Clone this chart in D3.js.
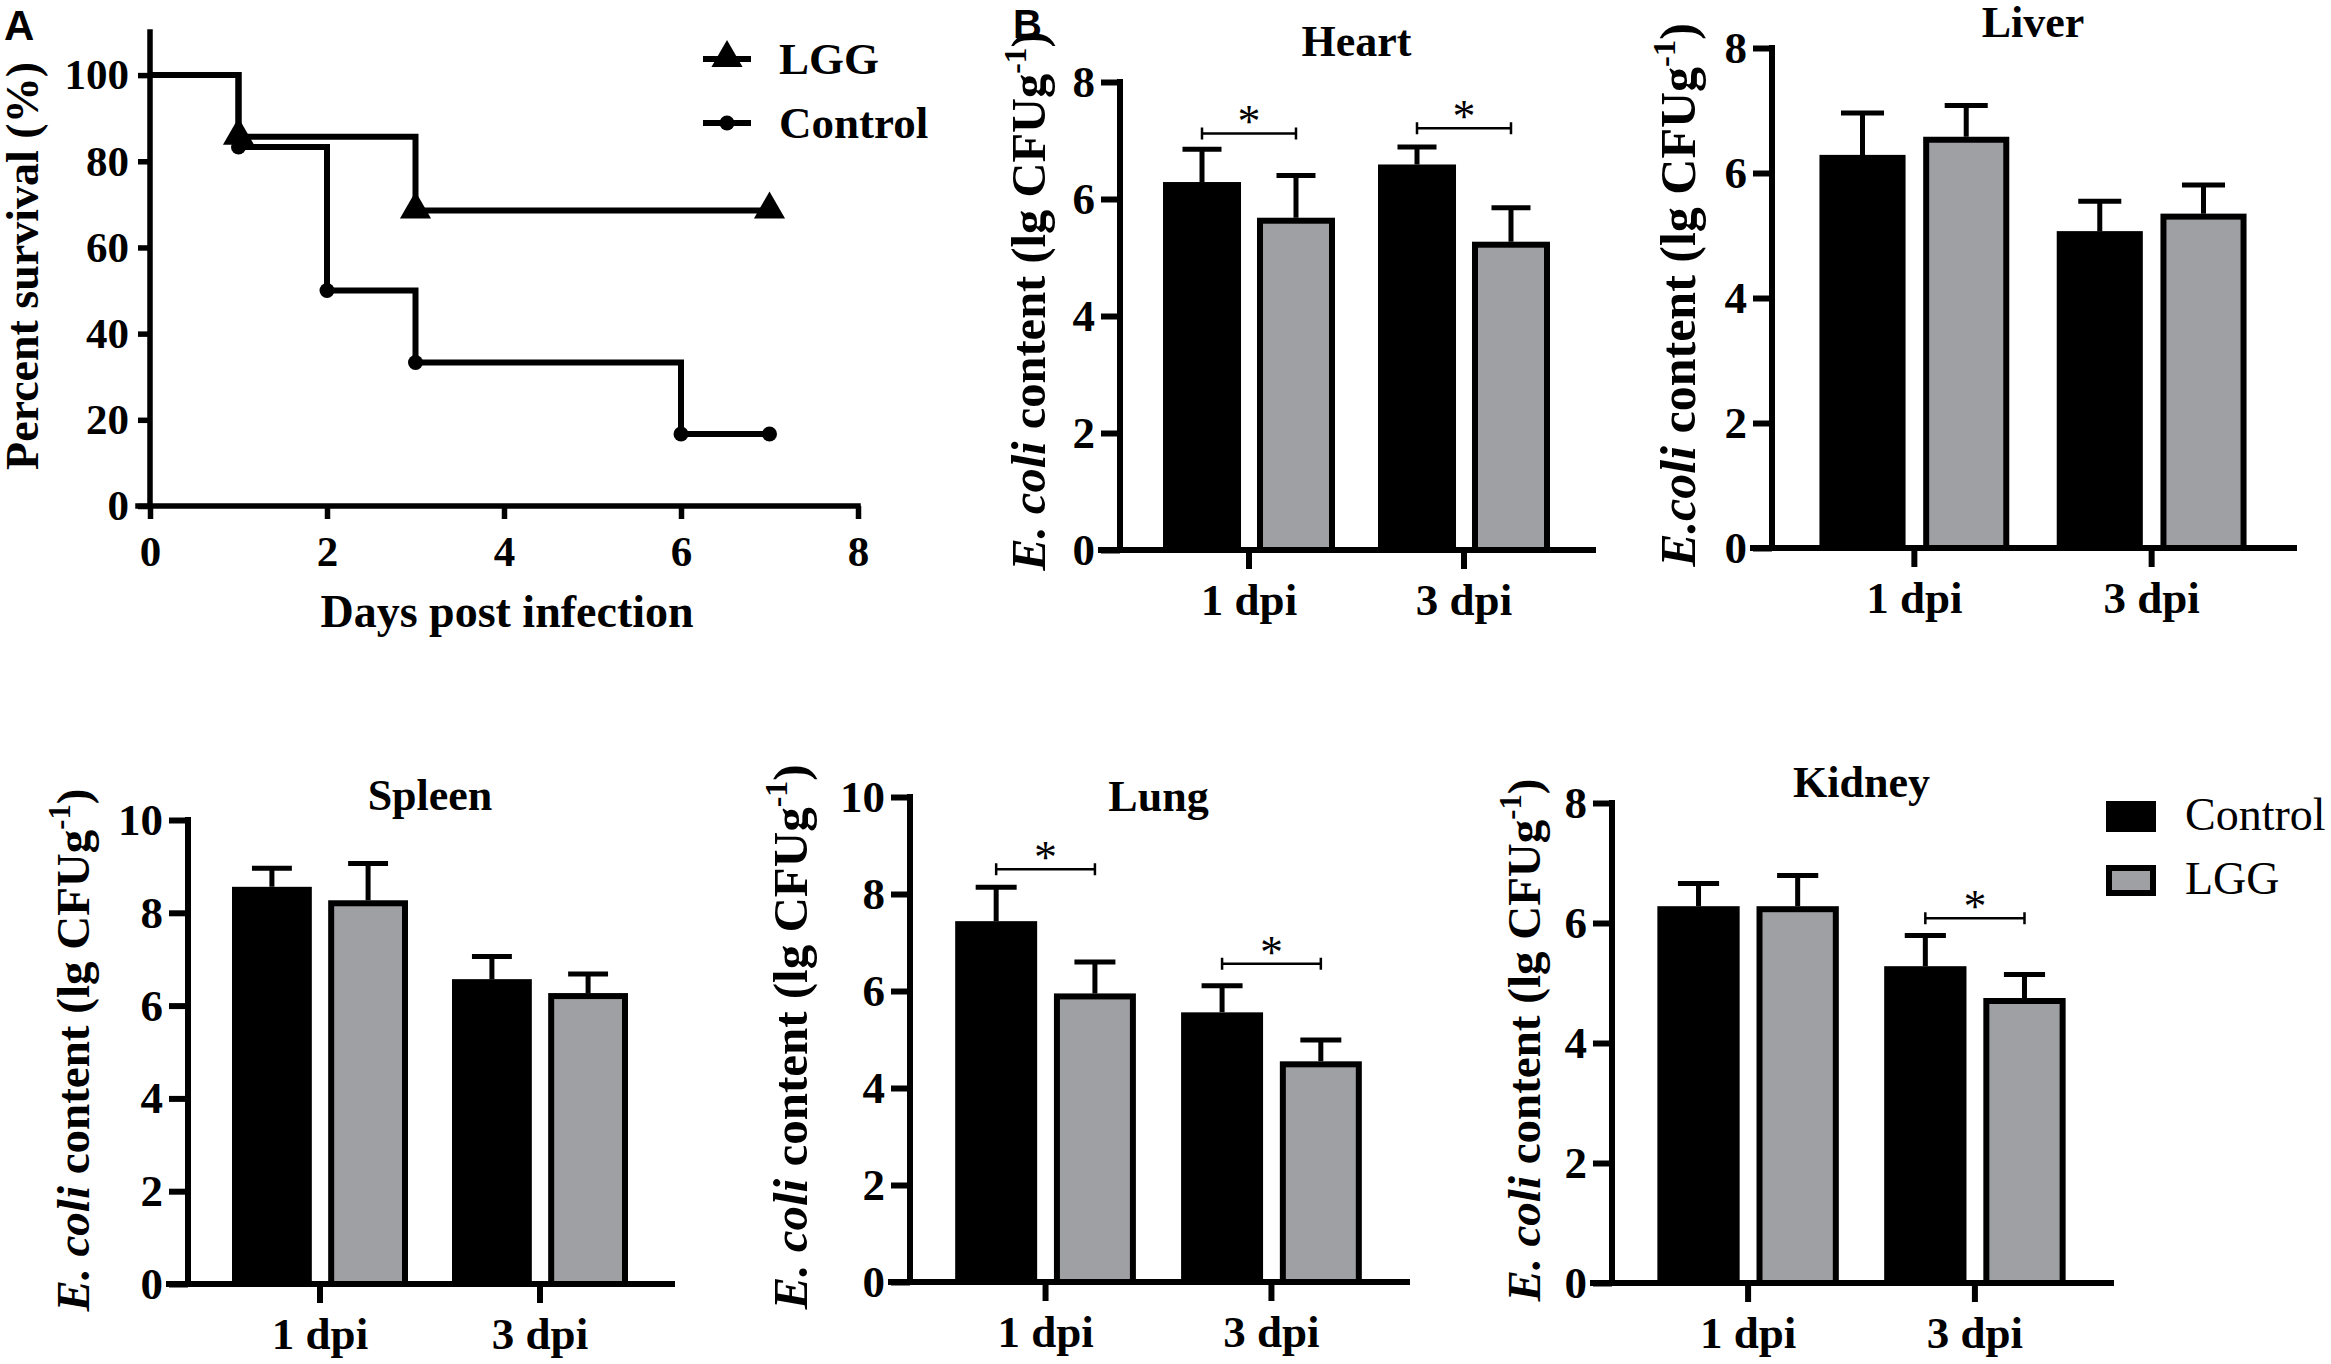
<!DOCTYPE html>
<html>
<head>
<meta charset="utf-8">
<script src="https://cdn.jsdelivr.net/npm/d3@7"></script>
<style>
  body { margin: 0; background: #fff; }
  svg { display: block; }
</style>
</head>
<body>
<div id="chart"></div>
<script>
/* CONSTANTS AND GLOBALS */
const width = 2331, height = 1364;
const SERIF = "'Liberation Serif', 'Times New Roman', serif";
const SANS = "'Liberation Sans', Arial, sans-serif";
const GREY = "#9fa0a4";

/* DATA - panel A, survival */
const survivalTicksX = [0, 2, 4, 6, 8];
const survivalTicksY = [0, 20, 40, 60, 80, 100];
const lggDays = [0, 1, 3, 7];
const lggSurvival = [100, 85.7, 68.6, 68.6];
const controlDays = [0, 1, 2, 3, 6, 7];
const controlSurvival = [100, 83.3, 50, 33.3, 16.7, 16.7];

/* DATA - panel B, E. coli content (mean and upper error) */
const organs = ["Heart", "Liver", "Spleen", "Lung", "Kidney"];
const timepoints = ["1 dpi", "3 dpi"];
const groups = ["Control", "LGG"];
const yMax = [8, 8, 10, 10, 8];
const controlMean = [[6.29, 6.59], [6.29, 5.07], [8.56, 6.57], [7.44, 5.56], [6.28, 5.28]];
const controlErr  = [[0.56, 0.30], [0.67, 0.48], [0.40, 0.49], [0.70, 0.55], [0.38, 0.51]];
const lggMean     = [[5.68, 5.27], [6.58, 5.35], [8.27, 6.27], [5.95, 4.55], [6.28, 4.75]];
const lggErr      = [[0.72, 0.58], [0.50, 0.46], [0.79, 0.41], [0.65, 0.44], [0.51, 0.39]];
const sigOrgan  = ["Heart", "Heart", "Lung", "Lung", "Kidney"];
const sigTime   = ["1 dpi", "3 dpi", "1 dpi", "3 dpi", "3 dpi"];
const sigHeight = [7.12, 7.21, 8.51, 6.56, 6.08];

/* LAYOUT (pixel boxes of each plot) */
const layout = {
  Heart:  {x0: 1120, x1: 1593, yTop: 82,  yBot: 550,  titleY: 56,  labX: 1045, labY: 301,  labFont: 48.5, species: "E. coli"},
  Liver:  {x0: 1772, x1: 2294, yTop: 48,  yBot: 548,  titleY: 37,  labX: 1695, labY: 295,  labFont: 50, species: "E.coli"},
  Spleen: {x0: 188,  x1: 672,  yTop: 820, yBot: 1284, titleY: 810, labX: 89,   labY: 1050, labFont: 47, species: "E. coli"},
  Lung:   {x0: 910,  x1: 1407, yTop: 797, yBot: 1282, titleY: 811, labX: 807,  labY: 1037, labFont: 49, species: "E. coli"},
  Kidney: {x0: 1612, x1: 2111, yTop: 803, yBot: 1283, titleY: 797, labX: 1540, labY: 1040, labFont: 47, species: "E. coli"}
};

/* APPEND SVG */
const svg = d3.select("#chart")
  .append("svg")
    .attr("width", width)
    .attr("height", height)
    .style("background", "#fff");

function styleAxis(g, size, sw) {
  g.select(".domain").remove();
  g.selectAll(".tick line").attr("stroke", "#000").attr("stroke-width", sw);
  g.selectAll(".tick text")
    .attr("fill", "#000")
    .style("font-family", SERIF)
    .style("font-weight", "bold")
    .style("font-size", size + "px");
}

function yLabel(g, x, y, species, fs) {
  const t = g.append("text")
    .attr("transform", `translate(${x},${y}) rotate(-90)`)
    .attr("text-anchor", "middle")
    .style("font-family", SERIF)
    .style("font-weight", "bold")
    .style("font-size", fs + "px");
  t.append("tspan").style("font-style", "italic").text(species);
  t.append("tspan").text(" content (lg CFUg");
  t.append("tspan").attr("dy", -0.4 * fs).style("font-size", (0.65 * fs) + "px").text("-1");
  t.append("tspan").attr("dy", 0.4 * fs).text(")");
}

/* ---------- PANEL A : survival ---------- */
const ax = d3.scaleLinear().domain([0, 8]).range([150, 858]);
const ay = d3.scaleLinear().domain([0, 110]).range([506, 32]);

const gA = svg.append("g");

gA.append("g")
  .attr("transform", `translate(${ax(0)},0)`)
  .call(d3.axisLeft(ay).tickValues(survivalTicksY).tickSize(12).tickPadding(9))
  .call(g => styleAxis(g, 43, 5.5));

gA.append("g")
  .attr("transform", `translate(0,${ay(0)})`)
  .call(d3.axisBottom(ax).tickValues(survivalTicksX).tickSize(13).tickPadding(16))
  .call(g => styleAxis(g, 43, 5.5));

// axis lines
gA.append("path")
  .attr("d", `M${ax(0)},${ay(110)}V${ay(0)}M${ax(0) - 12},${ay(0)}H${ax(8)}`)
  .attr("fill", "none").attr("stroke", "#000").attr("stroke-width", 5.5)
  .attr("stroke-linecap", "square");

const stepLine = d3.line()
  .x(d => ax(d[0]))
  .y(d => ay(d[1]))
  .curve(d3.curveStepAfter);

const lggPts = lggDays.map((d, i) => [d, lggSurvival[i]]);
const ctrlPts = controlDays.map((d, i) => [d, controlSurvival[i]]);

gA.append("path").attr("d", stepLine(ctrlPts))
  .attr("fill", "none").attr("stroke", "#000").attr("stroke-width", 6);
gA.append("path").attr("d", stepLine(lggPts))
  .attr("fill", "none").attr("stroke", "#000").attr("stroke-width", 6);

const tri = d3.symbol(d3.symbolTriangle, 420);
gA.selectAll(".tri")
  .data(lggPts.slice(1))
  .join("path")
    .attr("transform", d => `translate(${ax(d[0])},${ay(d[1]) - 1})`)
    .attr("d", tri)
    .attr("fill", "#000");

gA.selectAll(".dot")
  .data(ctrlPts.slice(1))
  .join("circle")
    .attr("cx", d => ax(d[0]))
    .attr("cy", d => ay(d[1]))
    .attr("r", 7.5)
    .attr("fill", "#000");

// axis titles
gA.append("text")
  .attr("transform", `translate(38,266) rotate(-90)`)
  .attr("text-anchor", "middle")
  .style("font-family", SERIF).style("font-weight", "bold").style("font-size", "46px")
  .text("Percent survival (%)");

gA.append("text")
  .attr("x", 507).attr("y", 627)
  .attr("text-anchor", "middle")
  .style("font-family", SERIF).style("font-weight", "bold").style("font-size", "46px")
  .text("Days post infection");

// legend A
const legA = gA.append("g");
[["LGG", 59], ["Control", 123]].forEach(([name, ly]) => {
  legA.append("line")
    .attr("x1", 703).attr("x2", 751).attr("y1", ly).attr("y2", ly)
    .attr("stroke", "#000").attr("stroke-width", 6);
  if (name === "LGG") {
    legA.append("path").attr("transform", `translate(727,${ly - 1})`).attr("d", tri).attr("fill", "#000");
  } else {
    legA.append("circle").attr("cx", 727).attr("cy", ly).attr("r", 7.5).attr("fill", "#000");
  }
  legA.append("text")
    .attr("x", 779).attr("y", ly + 15)
    .style("font-family", SERIF).style("font-weight", "bold").style("font-size", "45px")
    .text(name);
});

// panel letters
svg.append("text").attr("x", 4).attr("y", 40)
  .style("font-family", SANS).style("font-weight", "bold").style("font-size", "42px").text("A");
svg.append("text").attr("x", 1013).attr("y", 38)
  .style("font-family", SANS).style("font-weight", "bold").style("font-size", "40px").text("B");

/* ---------- PANEL B : bar charts ---------- */
organs.forEach((organ, i) => {
  const p = layout[organ];
  const g = svg.append("g");

  const y = d3.scaleLinear().domain([0, yMax[i]]).range([p.yBot, p.yTop]);
  const x = d3.scaleBand().domain(timepoints).range([p.x0, p.x1])
    .paddingInner(0.2).paddingOuter(0.2);
  const xg = d3.scaleBand().domain(groups).range([0, x.bandwidth()]).paddingInner(0.17);
  const bw = xg.bandwidth();

  const rows = timepoints.flatMap((t, j) => [
    {t, grp: "Control", mean: controlMean[i][j], err: controlErr[i][j]},
    {t, grp: "LGG", mean: lggMean[i][j], err: lggErr[i][j]}
  ]);

  // bars
  g.selectAll(".bar")
    .data(rows)
    .join("rect")
      .attr("x", d => x(d.t) + xg(d.grp) + (d.grp === "LGG" ? 3 : 0))
      .attr("y", d => y(d.mean) + (d.grp === "LGG" ? 3 : 0))
      .attr("width", d => bw - (d.grp === "LGG" ? 6 : 0))
      .attr("height", d => y(0) - y(d.mean) - (d.grp === "LGG" ? 3 : 0))
      .attr("fill", d => d.grp === "LGG" ? GREY : "#000")
      .attr("stroke", d => d.grp === "LGG" ? "#000" : "none")
      .attr("stroke-width", 6);

  // error bars
  g.selectAll(".err")
    .data(rows)
    .join("path")
      .attr("d", d => {
        const cx = x(d.t) + xg(d.grp) + bw / 2;
        return `M${cx},${y(d.mean)}V${y(d.mean + d.err)}M${cx - bw / 4},${y(d.mean + d.err)}H${cx + bw / 4}`;
      })
      .attr("fill", "none")
      .attr("stroke", "#000")
      .attr("stroke-width", 5);

  // axes
  g.append("g")
    .attr("transform", `translate(${p.x0},0)`)
    .call(d3.axisLeft(y).tickValues(d3.range(0, yMax[i] + 1, 2)).tickSize(19).tickPadding(6))
    .call(a => styleAxis(a, 45, 6));

  g.append("g")
    .attr("transform", `translate(0,${p.yBot})`)
    .call(d3.axisBottom(x).tickSize(19).tickPadding(14))
    .call(a => styleAxis(a, 45, 6));

  g.append("path")
    .attr("d", `M${p.x0},${y(yMax[i])}V${y(0)}M${p.x0 - 19},${y(0)}H${p.x1}`)
    .attr("fill", "none").attr("stroke", "#000").attr("stroke-width", 6)
    .attr("stroke-linecap", "square");

  // significance brackets
  sigOrgan.forEach((o, k) => {
    if (o !== organ) return;
    const t = sigTime[k];
    const xa = x(t) + xg("Control") + bw / 2;
    const xb = x(t) + xg("LGG") + bw / 2;
    const yy = y(sigHeight[k]);
    g.append("path")
      .attr("d", `M${xa},${yy}H${xb}M${xa},${yy - 6}V${yy + 6}M${xb},${yy - 6}V${yy + 6}`)
      .attr("fill", "none").attr("stroke", "#000").attr("stroke-width", 2.5);
    g.append("text")
      .attr("x", (xa + xb) / 2).attr("y", yy + 4)
      .attr("text-anchor", "middle")
      .style("font-family", SERIF).style("font-size", "46px")
      .text("*");
  });

  // title
  g.append("text")
    .attr("x", (p.x0 + p.x1) / 2).attr("y", p.titleY)
    .attr("text-anchor", "middle")
    .style("font-family", SERIF).style("font-weight", "bold").style("font-size", "44px")
    .text(organ);

  yLabel(g, p.labX, p.labY, p.species, p.labFont);
});

/* LEGEND B */
const legB = svg.append("g");
groups.forEach((grp, i) => {
  const ly = 801 + i * 64;
  legB.append("rect")
    .attr("x", grp === "LGG" ? 2109 : 2106).attr("y", grp === "LGG" ? ly + 3 : ly)
    .attr("width", grp === "LGG" ? 44 : 50).attr("height", grp === "LGG" ? 25 : 31)
    .attr("fill", grp === "LGG" ? GREY : "#000")
    .attr("stroke", grp === "LGG" ? "#000" : "none")
    .attr("stroke-width", 6);
  legB.append("text")
    .attr("x", 2185).attr("y", ly + 29)
    .style("font-family", SERIF).style("font-size", "46px")
    .text(grp);
});
</script>
</body>
</html>
